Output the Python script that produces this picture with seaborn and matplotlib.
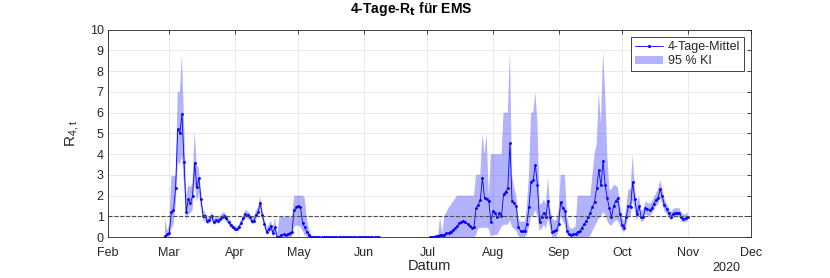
import numpy as np
import pandas as pd
import seaborn as sns
import matplotlib
matplotlib.use("Agg")
import matplotlib.pyplot as plt
import matplotlib.dates as mdates
from matplotlib.lines import Line2D
from matplotlib.patches import Patch

nan = np.nan
start = "2020-02-28"   # first day with a value

# 4-Tage-Mittel of R, one value per day
rt_feb = [0.06, 0.13]
rt_mar = [0.18, 1.22, 1.30, 2.38, 5.20, 5.03, 5.92, 3.63, 1.22, 1.83, 1.63, 1.98, 3.58, 2.40, 2.83, 1.83,
          1.03, 1.00, 0.77, 0.82, 1.03, 0.71, 0.82, 0.79, 0.87, 0.98, 1.03, 0.90, 0.74, 0.58, 0.48]
rt_apr = [0.40, 0.37, 0.49, 0.69, 0.90, 1.11, 1.06, 0.98, 0.79, 0.79, 1.06, 1.22, 1.65, 1.06, 0.63,
          0.26, 0.37, 0.53, 0.21, 0.47, 0.00, 0.02, 0.10, 0.13, 0.10, 0.15, 0.18, 0.26, 1.30, 1.43]
rt_may = [1.51, 1.46, 0.69, 0.47, 0.26, 0.10] + [0.0] * 25
rt_jun = [0.0] * 8 + [nan] * 22
rt_jul = [nan, 0.00, 0.00, 0.02, 0.05, 0.05, 0.08, 0.11, 0.08, 0.18, 0.21, 0.27, 0.34, 0.43, 0.53, 0.66,
          0.75, 0.79, 0.71, 0.63, 0.53, 0.43, 0.47, 1.40, 1.56, 1.79, 2.85, 1.87, 1.83, 1.75, 0.75]
rt_aug = [1.24, 1.14, 0.95, 1.15, 1.00, 2.07, 2.20, 2.36, 4.53, 1.74, 1.63, 1.50, 0.50, 0.29, 0.29, 0.29,
          0.61, 1.47, 2.68, 2.76, 3.49, 2.52, 0.75, 0.99, 1.18, 0.99, 1.76, 0.99, 0.23, 0.29, 0.32]
rt_sep = [0.64, 1.68, 1.40, 1.24, 0.29, 0.16, 0.10, 0.13, 0.16, 0.26, 0.29, 0.45, 0.61, 0.77, 0.96,
          1.18, 1.45, 1.70, 2.36, 3.23, 2.50, 3.67, 2.51, 1.87, 1.39, 0.96, 1.50, 1.74, 1.88, 1.10]
rt_oct = [0.60, 0.42, 0.96, 1.50, 1.46, 2.65, 1.85, 1.10, 1.50, 0.98, 0.98, 1.40, 1.35, 1.30, 1.40, 1.60,
          1.80, 1.90, 2.30, 1.97, 1.54, 1.38, 1.17, 0.98, 1.10, 1.17, 1.17, 1.17, 0.98, 0.87, 0.90]
rt_nov = [0.98]

# lower bound of the 95 % KI
lo_feb = [0.0, 0.0]
lo_mar = [0.00, 0.40, 0.60, 1.50, 3.60, 3.50, 3.90, 2.50, 0.80, 1.10, 1.15, 1.30, 2.60, 1.70, 2.10, 1.40,
          0.80, 0.80, 0.62, 0.66, 0.85, 0.58, 0.68, 0.65, 0.72, 0.82, 0.87, 0.75, 0.60, 0.46, 0.37]
lo_apr = [0.30, 0.28, 0.38, 0.55, 0.74, 0.93, 0.88, 0.80, 0.63, 0.63, 0.86, 1.00, 1.35, 0.82, 0.45,
          0.12, 0.20, 0.30, 0.05, 0.15, 0.00, 0.00, 0.00, 0.00, 0.00, 0.00, 0.00, 0.00, 0.50, 0.55]
lo_may = [0.55, 0.50, 0.30, 0.10, 0.03, 0.00] + [0.0] * 25
lo_jun = [0.0] * 8 + [nan] * 22
lo_jul = [nan] + [0.0] * 22 + [0.10, 0.40, 0.45, 0.45, 0.45, 0.45, 0.40, 0.00]
lo_aug = [0.10, 0.10, 0.10, 0.30, 0.50, 0.60, 0.60, 0.60, 0.80, 0.50, 0.40, 0.30, 0.05, 0.00, 0.00, 0.00,
          0.10, 0.50, 1.00, 1.00, 1.30, 1.00, 0.30, 0.40, 0.60, 0.40, 0.90, 0.40, 0.00, 0.00, 0.00]
lo_sep = [0.30, 1.00, 0.80, 0.60, 0.10, 0.05, 0.00, 0.00, 0.00, 0.00, 0.00, 0.00, 0.00, 0.00, 0.00,
          0.05, 0.30, 0.50, 0.70, 0.90, 1.00, 1.20, 1.10, 0.80, 0.60, 0.55, 0.70, 0.80, 0.80, 0.55]
lo_oct = [0.35, 0.22, 0.60, 1.00, 1.00, 1.80, 1.30, 0.80, 1.10, 0.75, 0.75, 1.10, 1.05, 1.00, 1.10, 1.30,
          1.50, 1.55, 1.90, 1.62, 1.25, 1.12, 0.95, 0.80, 0.90, 0.96, 0.96, 0.96, 0.80, 0.70, 0.73]
lo_nov = [0.80]

# upper bound of the 95 % KI
hi_feb = [0.95, 0.30]
hi_mar = [0.60, 2.95, 2.95, 2.95, 7.00, 7.00, 8.80, 5.50, 2.00, 2.50, 2.40, 2.60, 5.10, 3.50, 3.30, 2.20,
          1.30, 1.20, 0.95, 1.00, 1.20, 0.88, 0.98, 0.95, 1.03, 1.15, 1.20, 1.06, 0.90, 0.72, 0.60]
hi_apr = [0.52, 0.50, 0.62, 0.84, 1.07, 1.30, 1.25, 1.16, 0.96, 0.96, 1.27, 1.45, 1.95, 1.30, 0.85,
          0.45, 0.60, 0.80, 0.45, 0.95, 0.05, 0.95, 0.97, 0.97, 0.97, 0.97, 0.97, 0.97, 2.00, 2.00]
hi_may = [2.00, 2.00, 2.00, 1.90, 0.90, 0.40, 0.10] + [0.0] * 24
hi_jun = [0.0] * 8 + [nan] * 22
hi_jul = [nan, 0.02, 0.03, 0.05, 0.08, 0.10, 1.00, 0.15, 1.00, 1.20, 1.40, 1.55, 1.70, 1.85, 2.00, 2.00,
          2.00, 2.00, 2.00, 2.00, 2.00, 2.00, 2.00, 3.00, 3.00, 3.00, 5.00, 4.00, 5.00, 2.00, 4.00]
hi_aug = [4.00, 4.00, 4.00, 4.00, 4.00, 6.00, 6.00, 6.00, 9.00, 3.00, 2.40, 2.00, 0.90, 0.75, 0.75, 0.75,
          1.50, 3.00, 6.00, 6.00, 7.00, 5.50, 1.60, 1.60, 1.80, 1.60, 2.90, 1.40, 0.90, 0.80, 0.85]
hi_sep = [1.30, 3.00, 3.00, 3.00, 1.00, 0.50, 0.40, 0.45, 0.50, 2.00, 2.00, 2.00, 2.00, 2.00, 2.00,
          2.00, 3.00, 4.00, 4.50, 7.00, 5.50, 9.00, 7.00, 4.00, 2.30, 2.30, 2.50, 2.50, 2.40, 1.60]
hi_oct = [0.95, 0.75, 1.50, 2.30, 2.30, 4.00, 2.40, 1.60, 2.00, 1.30, 1.30, 1.70, 1.65, 1.60, 1.70, 1.90,
          2.10, 2.30, 2.75, 2.35, 1.85, 1.65, 1.42, 1.20, 1.33, 1.40, 1.40, 1.40, 1.20, 1.08, 1.10]
hi_nov = [1.20]

rt = rt_feb + rt_mar + rt_apr + rt_may + rt_jun + rt_jul + rt_aug + rt_sep + rt_oct + rt_nov
lo = lo_feb + lo_mar + lo_apr + lo_may + lo_jun + lo_jul + lo_aug + lo_sep + lo_oct + lo_nov
hi = hi_feb + hi_mar + hi_apr + hi_may + hi_jun + hi_jul + hi_aug + hi_sep + hi_oct + hi_nov

df = pd.DataFrame({"Datum": pd.date_range(start, periods=len(rt), freq="D"),
                   "rt": rt, "lo": lo, "hi": hi})
# split line at the June gap
df["seg"] = df["rt"].isna().cumsum()

sns.set_style("whitegrid")
plt.rcParams["font.family"] = ["Liberation Sans", "DejaVu Sans"]
plt.rcParams["mathtext.default"] = "regular"
dark = "0.15"

fig = plt.figure(figsize=(8.3, 2.78), dpi=100)
ax = fig.add_axes([0.130, 0.147, 0.775, 0.746])

ax.fill_between(df["Datum"], df["lo"], df["hi"], color="blue", alpha=0.3, lw=0)
sns.lineplot(data=df, x="Datum", y="rt", units="seg", estimator=None, color="blue",
             lw=0.6, marker=".", ms=2.5, mec="blue", ax=ax, legend=False)
ax.axhline(1, color="0.3", ls="--", lw=0.8)

ax.set_xlim(pd.Timestamp("2020-02-01"), pd.Timestamp("2020-12-01"))
ax.set_ylim(0, 10)
ax.set_yticks(range(0, 11))
ax.xaxis.set_major_locator(mdates.MonthLocator())
ax.xaxis.set_major_formatter(mdates.DateFormatter("%b"))

ax.grid(True, color="0.9", lw=0.6)
for s in ax.spines.values():
    s.set_color(dark)
    s.set_linewidth(0.6)
ax.tick_params(direction="in", length=3, width=0.6, colors=dark, labelsize=9,
               top=True, right=True)
ax.tick_params(axis="x", pad=7)
ax.tick_params(axis="y", pad=3)

ax.set_xlabel("Datum", fontsize=10.5, color=dark, labelpad=0)
ax.set_ylabel("R$_{4,t}$", fontsize=11, color=dark, labelpad=6)
fig.text(0.495, 0.935, "4-Tage-R$_\\mathbf{t}$ für EMS", ha="center", va="bottom",
         fontsize=10, fontweight="bold", color="black")
fig.text(0.875, 0.015, "2020", ha="center", va="bottom", fontsize=9, color=dark)

handles = [Line2D([], [], color="blue", lw=0.6, marker=".", ms=2.5),
           Patch(facecolor="blue", alpha=0.3, edgecolor="none")]
leg = ax.legend(handles, ["4-Tage-Mittel", "95 % KI"], loc="upper right", fontsize=9,
                fancybox=False, framealpha=1, edgecolor=dark, borderpad=0.3,
                handlelength=2.2, handletextpad=0.4, labelspacing=0.2, borderaxespad=0.6)
leg.get_frame().set_linewidth(0.6)

fig.savefig("out.png", dpi=100)
